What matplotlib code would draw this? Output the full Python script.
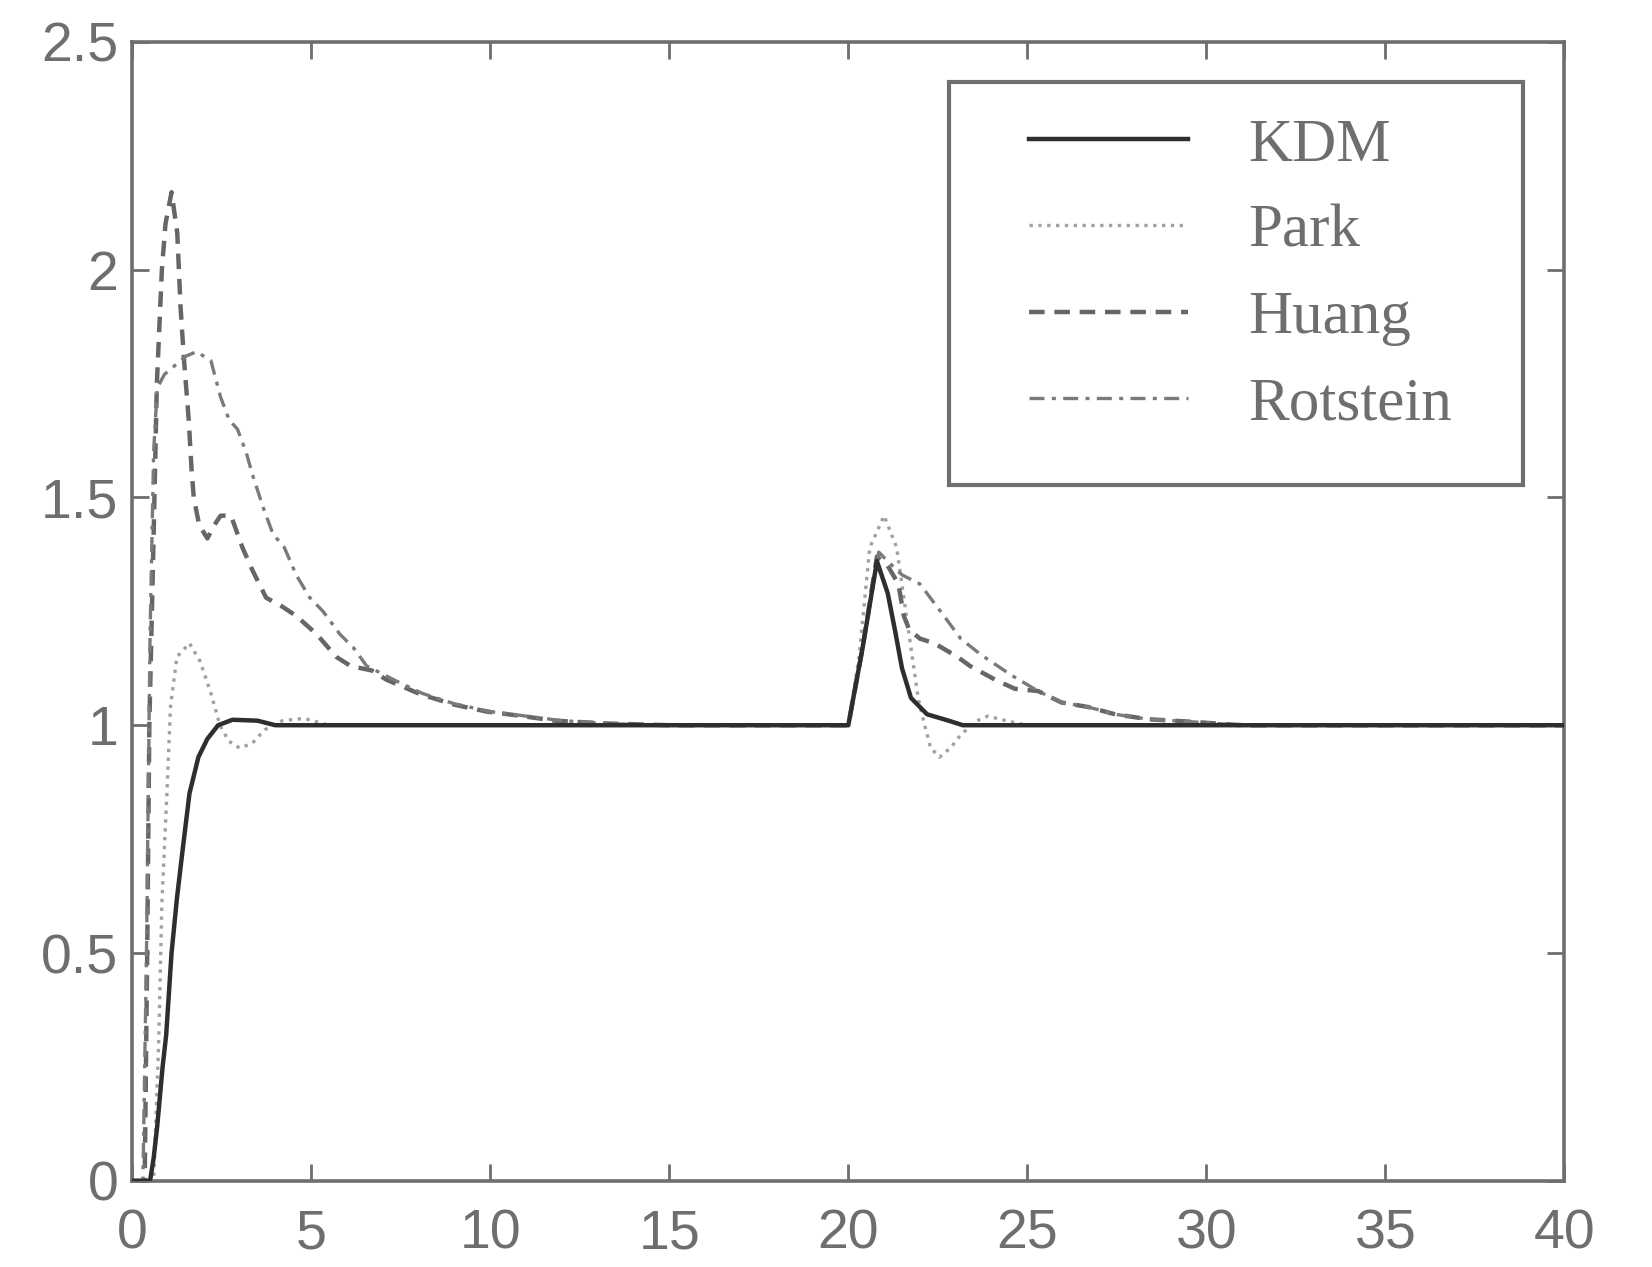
import matplotlib
matplotlib.use("Agg")
import matplotlib.pyplot as plt
from matplotlib.patches import Rectangle

# KDM (solid)
kdm_t = [0, 0.5, 0.6, 0.7, 0.85, 0.95, 1.1, 1.25, 1.4, 1.6, 1.85, 2.1, 2.4, 2.8, 3.5, 4.0,
         5, 20, 20.4, 20.8, 21.1, 21.3, 21.5, 21.75, 22.2, 22.8, 23.2, 40]
kdm_y = [0, 0, 0.05, 0.12, 0.25, 0.32, 0.5, 0.62, 0.72, 0.85, 0.93, 0.97, 1.0, 1.012, 1.01, 1.0,
         1.0, 1.0, 1.17, 1.36, 1.29, 1.21, 1.125, 1.06, 1.024, 1.01, 1.0, 1.0]

# Park (dotted)
park_t = [0, 0.6, 0.74, 0.83, 0.97, 1.07, 1.25, 1.6, 1.9, 2.2, 2.45, 2.7, 3.0, 3.35, 3.7, 4.2,
          4.8, 5.5, 20, 20.3, 20.6, 21.0, 21.35, 21.55, 21.75, 21.95, 22.1, 22.3, 22.55, 22.85,
          23.15, 23.6, 23.9, 24.4, 25, 40]
park_y = [0, 0, 0.3, 0.61, 0.85, 1.04, 1.15, 1.18, 1.14, 1.07, 1.0, 0.965, 0.95, 0.96, 0.99, 1.01,
          1.015, 1.0, 1.0, 1.15, 1.39, 1.46, 1.39, 1.28, 1.17, 1.06, 1.01, 0.95, 0.93, 0.95,
          0.98, 1.01, 1.02, 1.01, 1.0, 1.0]

# Huang (dashed)
huang_t = [0, 0.35, 0.42, 0.48, 0.6, 0.69, 0.83, 0.93, 1.1, 1.26, 1.35, 1.44, 1.58, 1.66, 1.72,
           1.87, 2.1, 2.3, 2.47, 2.76, 3.08, 3.36, 3.74, 4.2, 4.58, 5.15, 5.7, 6.1, 6.7, 7.1,
           8.05, 9.0, 9.9, 10.9, 11.8, 13.2, 15, 20, 20.4, 20.8, 21.1, 21.4, 21.55, 21.7, 22.0,
           22.4, 23.05, 23.4, 24.1, 24.65, 25.3, 25.95, 26.7, 27.45, 28.4, 29.5, 31, 40]
huang_y = [0, 0, 0.5, 1.0, 1.42, 1.75, 2.0, 2.1, 2.17, 2.08, 1.92, 1.81, 1.67, 1.56, 1.5,
           1.44, 1.41, 1.44, 1.46, 1.46, 1.39, 1.34, 1.28, 1.26, 1.24, 1.2, 1.15, 1.13, 1.12, 1.10,
           1.068, 1.045, 1.03, 1.02, 1.01, 1.004, 1.0, 1.0, 1.17, 1.37, 1.35, 1.31, 1.24, 1.21, 1.19,
           1.18, 1.15, 1.13, 1.10, 1.08, 1.075, 1.05, 1.04, 1.024, 1.013, 1.008, 1.0, 1.0]

# Rotstein (dash-dot)
rot_t = [0, 0.3, 0.4, 0.5, 0.6, 0.7, 0.9, 1.2, 1.5, 1.8, 2.2, 2.47, 2.71, 2.94, 3.18, 3.36,
         3.65, 3.93, 4.25, 4.58, 4.96, 5.33, 5.8, 6.18, 6.55, 6.93, 7.3, 8.1, 9.0, 10.0, 11.0,
         12.0, 13.5, 15, 20, 20.4, 20.85, 21.1, 21.5, 22.0, 22.67, 23.14, 23.7, 24.55, 25.3,
         25.95, 26.7, 27.45, 28.4, 29.5, 31, 40]
rot_y = [0, 0, 0.5, 1.2, 1.6, 1.74, 1.77, 1.79, 1.81, 1.82, 1.8, 1.72, 1.67, 1.65, 1.6, 1.55,
         1.48, 1.42, 1.39, 1.33, 1.28, 1.25, 1.2, 1.17, 1.13, 1.115, 1.10, 1.07, 1.047, 1.03, 1.02,
         1.01, 1.003, 1.0, 1.0, 1.17, 1.38, 1.36, 1.33, 1.31, 1.24, 1.19, 1.155, 1.11, 1.075,
         1.05, 1.04, 1.024, 1.013, 1.008, 1.0, 1.0]

x_ticks = [0, 5, 10, 15, 20, 25, 30, 35, 40]
y_ticks = [0, 0.5, 1, 1.5, 2, 2.5]
y_labels = ["0", "0.5", "1", "1.5", "2", "2.5"]

gray = "#6e6e6e"

fig = plt.figure(figsize=(16.52, 12.67), dpi=100)
ax = fig.add_axes([0.08, 0.068, 0.867, 0.899])

ax.plot(kdm_t, kdm_y, "-", color="#2e2e2e", lw=3.2, label="KDM", zorder=4)
ax.plot(park_t, park_y, ":", color="#a0a0a0", lw=2.4, label="Park", zorder=3)
ax.plot(huang_t, huang_y, "--", color="#666666", lw=3.2, dashes=(3.5, 2.2), label="Huang", zorder=3)
ax.plot(rot_t, rot_y, "-.", color="#7a7a7a", lw=2.4, dashes=(4.5, 2.2, 1.2, 2.2),
        label="Rotstein", zorder=3)

ax.set_xlim(0, 40)
ax.set_ylim(0, 2.5)
ax.set_xticks(x_ticks)
ax.set_yticks(y_ticks)
ax.set_yticklabels(y_labels)
ax.tick_params(direction="in", length=12, width=2, color=gray, top=True, right=True,
               labelsize=40, labelcolor=gray)
ax.tick_params(axis="x", pad=20)
ax.tick_params(axis="y", pad=10)
for lbl in ax.get_xticklabels() + ax.get_yticklabels():
    lbl.set_family("Liberation Sans")
for s in ax.spines.values():
    s.set_color(gray)
    s.set_linewidth(2.6)

# legend box drawn separately (wider side padding than matplotlib allows)
ax.add_patch(Rectangle((0.570, 0.611), 0.401, 0.354, transform=ax.transAxes,
                       facecolor="white", edgecolor=gray, lw=3.0, zorder=5))
leg = ax.legend(loc="upper right", bbox_to_anchor=(0.947, 0.965),
                prop={"family": "Liberation Serif", "size": 44},
                handlelength=2.6, handletextpad=1.0, labelspacing=0.5,
                borderpad=0.59, borderaxespad=0, frameon=False)
leg.set_zorder(6)
for txt in leg.get_texts():
    txt.set_color(gray)

fig.savefig("out.png", dpi=100)
